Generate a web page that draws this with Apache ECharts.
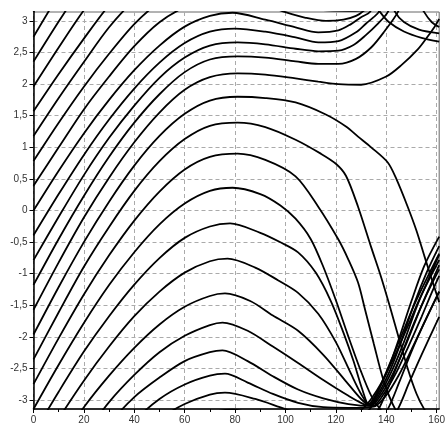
<!DOCTYPE html>
<html><head><meta charset="utf-8">
<script src="https://cdn.jsdelivr.net/npm/echarts@6.0.0/dist/echarts.min.js"></script>
<style>html,body{margin:0;padding:0;background:#fff}#c{width:448px;height:425px}</style>
</head><body><div id="c"></div>
<script>
// Axis ticks
const xLabelValues = [0, 20, 40, 60, 80, 100, 120, 140, 160];
const yTickValues = [-3, -2.5, -2, -1.5, -1, -0.5, 0, 0.5, 1, 1.5, 2, 2.5, 3];

// Trajectories: [time, unwrapped angle] (angle is shown modulo 2*pi)
const traj0 = [[0,-3.142],[10,-2.44],[20,-1.78],[30,-1.18],[40,-0.66],[50,-0.22],[60,0.11],[70,0.31],[79,0.36],[90,0.26],[98,0.08],[104,-0.13],[110,-0.45],[115,-0.89],[120,-1.42],[125,-2.0],[130,-2.55],[134,-2.93],[137.5,-3.14],[141,-3.3],[147,-3.45],[154,-3.55],[161,-3.61]];
const traj1 = [[0,-2.749],[10,-2.02],[20,-1.33],[30,-0.71],[40,-0.16],[50,0.30],[60,0.65],[70,0.85],[81,0.90],[92,0.80],[104,0.54],[113,0.06],[121,-0.46],[125,-0.78],[128.8,-1.14],[131.6,-1.57],[135,-2.1],[139,-2.7],[143.5,-3.14],[147,-3.3],[153,-3.42],[161,-3.48]];
const traj2 = [[0,-2.356],[10,-1.61],[20,-0.89],[30,-0.26],[40,0.31],[50,0.78],[60,1.13],[70,1.34],[81,1.39],[92,1.32],[104,1.12],[114,0.9],[120,0.74],[124,0.55],[128.8,0.06],[134,-0.58],[138,-1.06],[141.8,-1.57],[145,-2.02],[148.5,-2.5],[152,-2.9],[155,-3.14],[158,-3.3],[161,-3.38]];
const traj3 = [[0,-1.963],[10,-1.21],[20,-0.50],[30,0.14],[40,0.71],[50,1.18],[60,1.53],[70,1.74],[81,1.80],[92,1.78],[104,1.71],[116,1.52],[124,1.33],[128.8,1.17],[134,1.0],[140.6,0.76],[144,0.5],[148.5,0.06],[152,-0.32],[155.2,-0.73],[158,-1.08],[161,-1.45]];
const traj4 = [[0,-1.571],[10,-0.82],[20,-0.11],[30,0.52],[40,1.08],[50,1.55],[60,1.91],[70,2.11],[81,2.17],[92,2.15],[104,2.09],[113,2.04],[121,2.0],[130,1.99],[140,2.12],[146,2.3],[152.5,2.55],[156,2.73],[159.2,2.91],[161,3.03]];
const traj5 = [[0,-1.178],[10,-0.45],[20,0.23],[30,0.85],[40,1.39],[50,1.84],[60,2.19],[70,2.39],[81,2.44],[92,2.42],[104,2.36],[113,2.32],[121,2.32],[128,2.40],[134,2.58],[139,2.82],[144.6,3.14],[149,3.55],[154,4.0],[161,4.6]];
const traj6 = [[0,-0.785],[10,-0.10],[20,0.56],[30,1.15],[40,1.66],[50,2.10],[60,2.42],[70,2.61],[81,2.66],[92,2.63],[104,2.56],[113,2.52],[121,2.53],[127,2.62],[132,2.78],[136.5,2.95],[140.6,3.14],[145,3.55],[150,4.05],[155,4.5],[161,5.0]];
const traj7 = [[0,-0.393],[10,0.26],[20,0.88],[30,1.44],[40,1.93],[50,2.34],[60,2.65],[70,2.83],[80,2.88],[92,2.83],[104,2.74],[113,2.66],[121,2.68],[128,2.82],[132,2.96],[135,3.06],[137,3.14],[141,3.5],[146,4.0],[151,4.5],[156,4.95],[161,5.35]];
const traj8 = [[0,0],[10,0.63],[20,1.22],[30,1.75],[40,2.22],[50,2.61],[60,2.91],[70,3.08],[79,3.13],[92,3.02],[104,2.90],[113,2.82],[121,2.85],[126,2.95],[130,3.06],[133.5,3.14],[137,3.45],[141,3.82],[146,4.3],[151,4.78],[156,5.2],[161,5.6]];
const traj9 = [[0,0.393],[10,1.0],[20,1.6],[30,2.12],[40,2.6],[50,2.98],[60,3.22],[70,3.37],[76,3.40],[88,3.30],[100,3.14],[108,3.05],[116,3.0],[123,3.02],[128,3.08],[131,3.16],[134,3.3],[138,3.55],[143,3.95],[148,4.4],[154,4.95],[161,5.5]];
const traj10 = [[0,0.785],[10,1.39],[20,1.96],[30,2.48],[40,2.95],[50,3.3],[60,3.53],[70,3.67],[76,3.70],[85,3.56],[95,3.38],[105,3.24],[115,3.17],[125,3.16],[135,3.18],[140,3.36],[145,3.68],[150,4.08],[155,4.5],[161,5.0]];
const traj11 = [[0,1.178],[10,1.78],[20,2.35],[30,2.9],[40,3.33],[50,3.64],[60,3.90],[70,4.04],[75,4.07],[85,3.9],[95,3.66],[105,3.45],[115,3.31],[125,3.22],[134.5,3.19],[139,3.38],[144,3.72],[149,4.15],[154,4.6],[158,4.98],[161,5.25]];
const traj12 = [[0,1.571],[10,2.16],[20,2.72],[30,3.25],[40,3.68],[50,4.04],[60,4.30],[70,4.47],[75,4.51],[85,4.38],[95,4.13],[105,3.87],[115,3.6],[125,3.35],[131,3.22],[134,3.2],[138.5,3.40],[143,3.73],[148,4.18],[153,4.68],[157.5,5.1],[161,5.42]];
const traj13 = [[0,1.963],[10,2.58],[20,3.17],[30,3.67],[40,4.11],[50,4.48],[60,4.76],[70,4.93],[76,4.97],[86,4.85],[95,4.62],[105,4.38],[115,4.0],[124,3.58],[130,3.3],[133.5,3.2],[138,3.42],[142.5,3.77],[147,4.2],[152,4.75],[157,5.22],[161,5.58]];
const traj14 = [[0,2.356],[10,2.99],[20,3.59],[30,4.13],[40,4.61],[50,5.0],[60,5.30],[70,5.48],[77,5.52],[88,5.38],[97,5.18],[105,4.98],[113,4.65],[120,4.2],[126,3.7],[130,3.38],[133.2,3.21],[137.5,3.43],[142,3.8],[146,4.22],[151,4.8],[156,5.3],[161,5.72]];
const traj15 = [[0,2.749],[10,3.415],[20,4.05],[30,4.61],[40,5.11],[50,5.53],[60,5.85],[70,6.03],[78,6.08],[90,5.93],[98,5.78],[105,5.62],[112,5.3],[118,4.85],[123,4.35],[127,3.9],[130.5,3.45],[133,3.22],[137,3.45],[141,3.8],[145,4.25],[150,4.85],[155,5.4],[161,5.87]];

const trajectories = [traj0, traj1, traj2, traj3, traj4, traj5, traj6, traj7, traj8, traj9, traj10, traj11, traj12, traj13, traj14, traj15];
const TWO_PI = 2 * Math.PI;

const series = [];
trajectories.forEach(function (t) {
  [-1, 0, 1].forEach(function (k) {
    const d = t.map(function (p) { return [p[0], p[1] + k * TWO_PI]; });
    series.push({
      type: 'line', data: d, smooth: 0.3, showSymbol: false, symbol: 'none',
      clip: true, silent: true, animation: false, z: 3,
      lineStyle: { color: '#000', width: 1.8 }
    });
  });
});

const chart = echarts.init(document.getElementById('c'), null, { renderer: 'canvas' });
chart.setOption({
  animation: false,
  backgroundColor: '#fff',
  grid: { left: 33.5, right: 6.5, top: 12, bottom: 15.5, show: true, borderColor: '#666', borderWidth: 1, containLabel: false },
  xAxis: {
    type: 'value', min: 0, max: 161, interval: 20,
    axisLine: { show: true, onZero: false, lineStyle: { color: '#000', width: 1.5 } },
    axisTick: { show: true, customValues: xLabelValues, length: 4, lineStyle: { color: '#000' } },
    minorTick: { show: true, splitNumber: 2, length: 3, lineStyle: { color: '#000' } },
    axisLabel: { customValues: xLabelValues, color: '#333', fontSize: 10, fontFamily: 'Liberation Sans, Arial', margin: 6 },
    splitLine: { show: true, lineStyle: { color: '#aaa', type: [4, 3], width: 1 } }
  },
  yAxis: {
    type: 'value', min: -Math.PI, max: Math.PI,
    axisLine: { show: true, onZero: false, lineStyle: { color: '#000', width: 1.5 } },
    axisTick: { show: true, customValues: yTickValues, length: 4, lineStyle: { color: '#000' } },
    axisLabel: { customValues: yTickValues, color: '#333', fontSize: 10, fontFamily: 'Liberation Sans, Arial', margin: 6,
      formatter: function (v) { return String(v).replace('.', ','); } },
    splitLine: { show: true, lineStyle: { color: '#aaa', type: [4, 3], width: 1 } }
  },
  series: series
});
</script>
</body></html>
